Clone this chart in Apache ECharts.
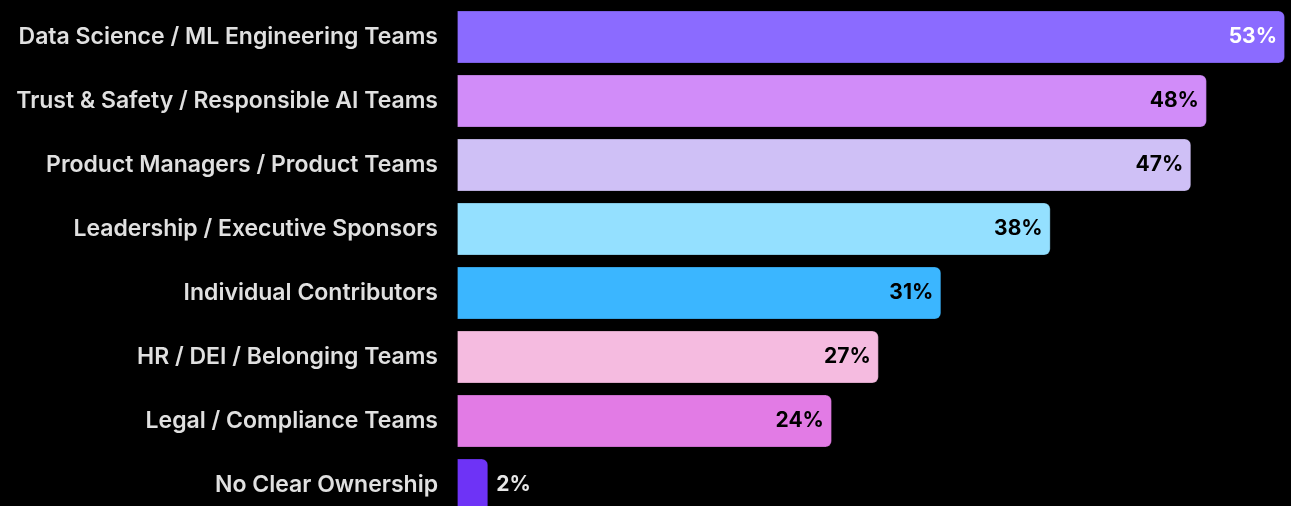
<!DOCTYPE html>
<html>
<head>
<meta charset="utf-8">
<script src="https://cdn.jsdelivr.net/npm/echarts@6/dist/echarts.min.js"></script>
<style>
html,body{margin:0;padding:0;background:#000;}
#chart{width:1291px;height:506px;}
</style>
</head>
<body>
<div id="chart"></div>
<script>
// categories top to bottom
var teams = [
    'Data Science / ML Engineering Teams',
    'Trust & Safety / Responsible AI Teams',
    'Product Managers / Product Teams',
    'Leadership / Executive Sponsors',
    'Individual Contributors',
    'HR / DEI / Belonging Teams',
    'Legal / Compliance Teams',
    'No Clear Ownership'
];
var shares = [53, 48, 47, 38, 31, 27, 24, 2];
var barColors = ['#8b6bff', '#d18cf9', '#cfc0f6', '#94e0ff', '#3bb6ff', '#f5bbe0', '#e27be5', '#6e33f6'];

var chart = echarts.init(document.getElementById('chart'));

var seriesData = shares.map(function (v, i) {
    var item = {value: v, itemStyle: {color: barColors[i]}};
    if (i === 0) {
        item.label = {color: '#ffffff'};
    }
    if (v < 5) {//太短的柱子，标签放外面
        item.label = {position: 'right', color: '#e6e6e6', distance: 8};
    }
    return item;
});

var option = {
    backgroundColor: '#000000',
    animation: false,
    grid: {
        left: 457,
        right: 6,
        top: 5,
        height: 512,
        containLabel: false,
        outerBoundsMode: 'none'
    },
    xAxis: {
        type: 'value',
        min: 0,
        max: 53,
        show: false
    },
    yAxis: {
        type: 'category',
        data: teams,
        inverse: true,
        axisLine: {show: false},
        axisTick: {show: false},
        axisLabel: {
            margin: 19,
            color: '#e0e0e0',
            fontFamily: 'Inter',
            fontWeight: 600,
            fontSize: 23
        }
    },
    series: [{
        type: 'bar',
        barCategoryGap: '17%',
        data: seriesData,
        itemStyle: {
            borderRadius: [0, 6, 6, 0],
            borderColor: 'rgba(0,0,0,0.25)',
            borderWidth: 1
        },
        label: {
            show: true,
            position: 'insideRight',
            distance: 8,
            formatter: '{c}%',
            color: '#000000',
            fontFamily: 'Inter',
            fontWeight: 'bold',
            fontSize: 21
        }
    }]
};
chart.setOption(option);
</script>
</body>
</html>
